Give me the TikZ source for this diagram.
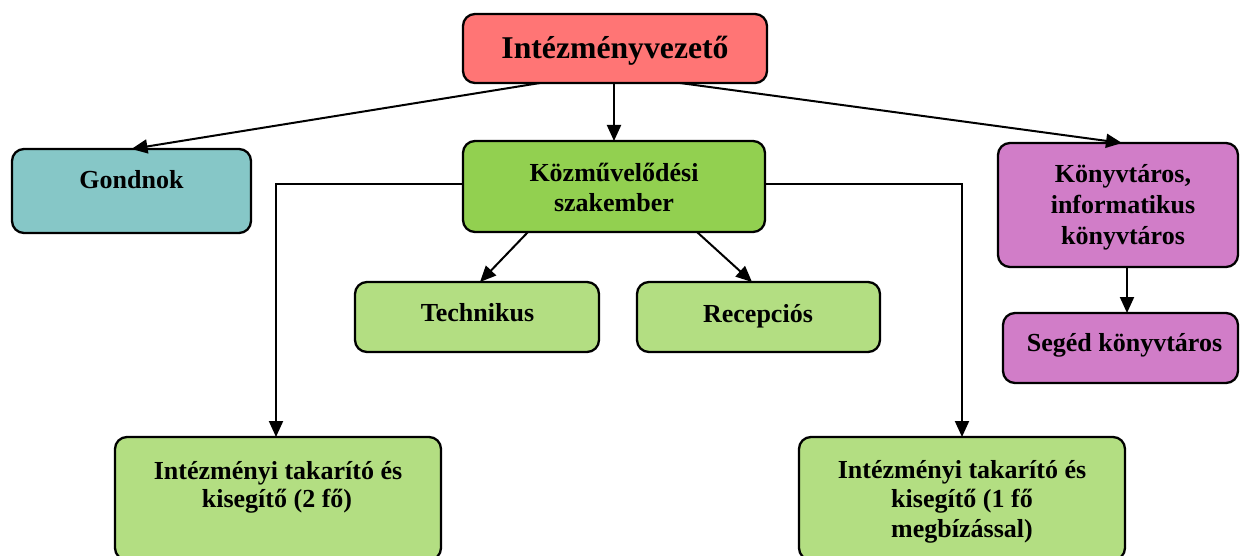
\documentclass[tikz,border=0pt]{standalone}
\usepackage{fontspec}
\setmainfont{Liberation Serif}
\usetikzlibrary{arrows.meta,calc}
\definecolor{cred}{HTML}{FF7575}
\definecolor{cteal}{HTML}{86C7C7}
\definecolor{cgreen}{HTML}{92D050}
\definecolor{clgreen}{HTML}{B3DE82}
\definecolor{cpurple}{HTML}{D17DC8}
\tikzset{
  box/.style={draw=black, line width=2.3pt, rounded corners=12pt, rectangle, inner sep=0pt, outer sep=0pt},
  txt/.style={anchor=base, inner sep=0pt, font=\fontsize{26}{30}\selectfont\bfseries},
  ttl/.style={anchor=base, inner sep=0pt, font=\fontsize{31.7}{36}\selectfont\bfseries},
  conn/.style={line width=2pt, -{Triangle[length=16pt,width=14pt]}},
  plain/.style={line width=2pt}
}
\begin{document}
\begin{tikzpicture}[x=1pt,y=-1pt]
\useasboundingbox (0,0) rectangle (1240,556);
\clip (0,0) rectangle (1240,556);
% boxes
\node[box, fill=cred, minimum width=304pt, minimum height=69pt] (vez) at (615,48.5) {};
\node[box, fill=cteal, minimum width=239pt, minimum height=84pt] (gond) at (131.5,191) {};
\node[box, fill=cgreen, minimum width=302pt, minimum height=91pt] (kozm) at (614,186.5) {};
\node[box, fill=cpurple, minimum width=240pt, minimum height=124pt] (kony) at (1118,205) {};
\node[box, fill=cpurple, minimum width=235pt, minimum height=70pt] (seg) at (1120.5,348) {};
\node[box, fill=clgreen, minimum width=244pt, minimum height=70pt] (tech) at (477,317) {};
\node[box, fill=clgreen, minimum width=243pt, minimum height=70pt] (rec) at (758.5,317) {};
\node[box, fill=clgreen, minimum width=326pt, minimum height=123pt] (takl) at (278,498.5) {};
\node[box, fill=clgreen, minimum width=326pt, minimum height=123pt] (takr) at (962,498.5) {};
% texts
\node[ttl] (vezt) at (615,59) {Intézményvezető};
\node[txt] (gondt) at (131.5,189) {Gondnok};
\node[txt] (kozmt1) at (614,181.7) {Közművelődési};
\node[txt] (kozmt2) at (614,211.7) {szakember};
\node[txt] (konyt1) at (1123,183) {Könyvtáros,};
\node[txt] (konyt2) at (1123,213.5) {informatikus};
\node[txt] (konyt3) at (1123,244) {könyvtáros};
\node[txt] (segt) at (1124.5,351.7) {Segéd könyvtáros};
\node[txt] (techt) at (477.5,321.7) {Technikus};
\node[txt] (rect) at (758,322) {Recepciós};
\node[txt] (taklt1) at (278,479.3) {Intézményi takarító és};
\node[txt] (taklt2) at (277,507.3) {kisegítő (2 fő)};
\node[txt] (takrt1) at (962,478) {Intézményi takarító és};
\node[txt] (takrt2) at (962,507) {kisegítő (1 fő};
\node[txt] (takrt3) at (962,537) {megbízással)};
% connectors
\draw[conn] ([xshift=-75pt]vez.south) -- (gond.north);
\draw[conn] ([xshift=65pt]vez.south) -- ([xshift=4pt]kony.north);
\draw[conn] (kozm.north |- vez.south) -- (kozm.north);
\draw[conn] ([yshift=2.5pt]kozm.west) -| ([xshift=-2pt]takl.north);
\draw[conn] ([yshift=2.5pt]kozm.east) -| (takr.north);
\draw[conn] ([xshift=-86pt]kozm.south) -- ([xshift=3pt]tech.north);
\draw[conn] ([xshift=83pt]kozm.south) -- ([xshift=-6.5pt]rec.north);
\draw[conn] ([xshift=9pt]kony.south) -- ([xshift=9pt]kony.south |- seg.north);
\end{tikzpicture}
\end{document}
